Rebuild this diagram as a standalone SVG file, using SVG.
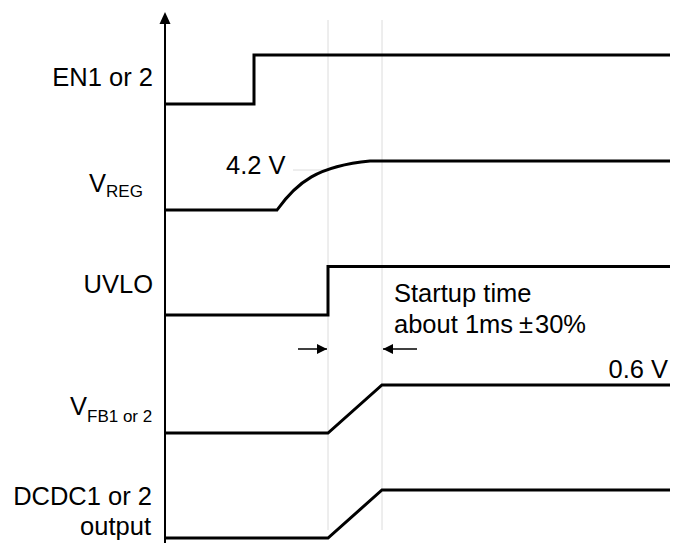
<svg xmlns="http://www.w3.org/2000/svg" width="681" height="543" viewBox="0 0 681 543">
<style>
text{font-family:"Liberation Sans",Arial,sans-serif;font-size:25.5px;fill:#000}
.sub{font-size:17px}
.sig{fill:none;stroke:#000;stroke-width:3}
.grid{stroke:#dcdcdc;stroke-width:1;fill:none}
.dim{stroke:#000;stroke-width:1.5;fill:none}
</style>
<defs>
<marker id="ah" viewBox="0 0 10 10" refX="10" refY="5" markerWidth="10" markerHeight="10" markerUnits="userSpaceOnUse" orient="auto"><path d="M0,0L10,5L0,10z" fill="#000"/></marker>
</defs>
<g id="grid">
<line class="grid" x1="328" y1="20" x2="328" y2="530"/>
<line class="grid" x1="382" y1="20" x2="382" y2="530"/>
<line class="grid" x1="293" y1="170" x2="328" y2="170"/>
</g>
<g id="axis">
<line x1="165" y1="24" x2="165" y2="543" stroke="#000" stroke-width="2"/>
<path d="M165,12L170.5,24L159.5,24z" fill="#000"/>
</g>
<g id="en">
<text x="153" y="86" text-anchor="end">EN1 or 2</text>
<path class="sig" d="M165,104H254V55H670"/>
</g>
<g id="vreg">
<text x="89" y="192">V<tspan class="sub" dy="5">REG</tspan></text>
<path class="sig" d="M165,210H277C297,182 318,166 370,161H670"/>
<text x="226" y="174">4.2 V</text>
</g>
<g id="uvlo">
<text x="153" y="293" text-anchor="end">UVLO</text>
<path class="sig" d="M165,315H328V266.5H670"/>
</g>
<g id="startup">
<text x="394" y="302">Startup time</text>
<text x="394" y="333">about 1ms<tspan x="519">±</tspan><tspan x="535">30%</tspan></text>
</g>
<g id="connectors">
<line class="dim" x1="298" y1="349" x2="327" y2="349" marker-end="url(#ah)"/>
<line class="dim" x1="417" y1="349" x2="383" y2="349" marker-end="url(#ah)"/>
</g>
<g id="vfb">
<text x="70" y="415">V<tspan class="sub" dy="7">FB1 or 2</tspan></text>
<path class="sig" d="M165,433H328L382,385H670"/>
<text x="668" y="378" text-anchor="end">0.6 V</text>
</g>
<g id="dcdc">
<text x="152" y="505" text-anchor="end">DCDC1 or 2</text>
<text x="151" y="535" text-anchor="end">output</text>
<path class="sig" d="M165,538H328L382,490H670"/>
</g>
</svg>
